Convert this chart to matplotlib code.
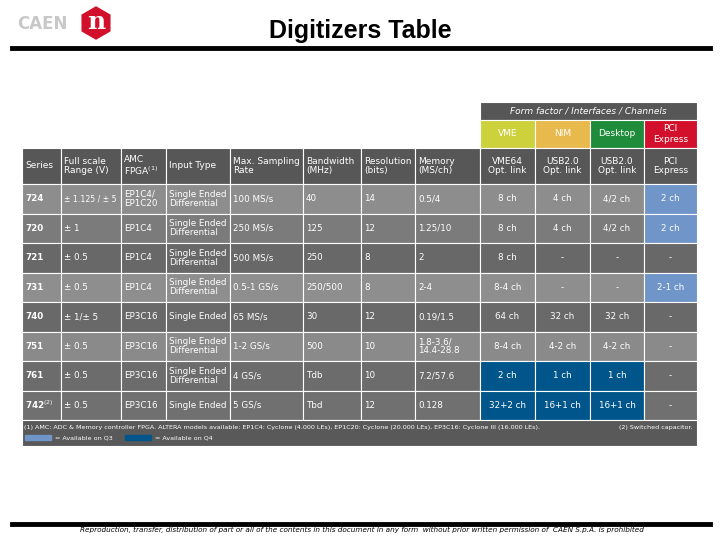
import matplotlib.pyplot as plt
from matplotlib.patches import Rectangle, RegularPolygon

# table content
headers = ["Series", "Full scale\nRange (V)", "AMC\nFPGA$^{(1)}$", "Input Type", "Max. Sampling\nRate",
           "Bandwidth\n(MHz)", "Resolution\n(bits)", "Memory\n(MS/ch)",
           "VME64\nOpt. link", "USB2.0\nOpt. link", "USB2.0\nOpt. link", "PCI\nExpress"]
form_factors = ["VME", "NIM", "Desktop", "PCI\nExpress"]
form_colors = ["#cdd13c", "#e8b94c", "#1e8c3a", "#d2102b"]
rows = [
    ["724", "± 1.125 / ± 5", "EP1C4/\nEP1C20", "Single Ended\nDifferential", "100 MS/s", "40", "14", "0.5/4", "8 ch", "4 ch", "4/2 ch", "2 ch"],
    ["720", "± 1", "EP1C4", "Single Ended\nDifferential", "250 MS/s", "125", "12", "1.25/10", "8 ch", "4 ch", "4/2 ch", "2 ch"],
    ["721", "± 0.5", "EP1C4", "Single Ended\nDifferential", "500 MS/s", "250", "8", "2", "8 ch", "-", "-", "-"],
    ["731", "± 0.5", "EP1C4", "Single Ended\nDifferential", "0.5-1 GS/s", "250/500", "8", "2-4", "8-4 ch", "-", "-", "2-1 ch"],
    ["740", "± 1/± 5", "EP3C16", "Single Ended", "65 MS/s", "30", "12", "0.19/1.5", "64 ch", "32 ch", "32 ch", "-"],
    ["751", "± 0.5", "EP3C16", "Single Ended\nDifferential", "1-2 GS/s", "500", "10", "1.8-3.6/\n14.4-28.8", "8-4 ch", "4-2 ch", "4-2 ch", "-"],
    ["761", "± 0.5", "EP3C16", "Single Ended\nDifferential", "4 GS/s", "Tdb", "10", "7.2/57.6", "2 ch", "1 ch", "1 ch", "-"],
    ["742$^{(2)}$", "± 0.5", "EP3C16", "Single Ended", "5 GS/s", "Tbd", "12", "0.128", "32+2 ch", "16+1 ch", "16+1 ch", "-"],
]
row_colors = ["#8d8d8d", "#7b7b7b", "#686868", "#8e8e8e", "#696969", "#8a8a8a", "#6c6c6c", "#707070"]
# availability marks: Q3 light blue, Q4 dark blue (row, col)
q3_cells = [(0, 11), (1, 11), (3, 11)]
q4_cells = [(6, 8), (6, 9), (6, 10), (7, 8), (7, 9), (7, 10)]

col_edges = [22, 61, 121, 166, 230, 303, 361, 415, 480, 535, 590, 644, 697]
row_top = 184
row_h = 29.5

fig = plt.figure(figsize=(7.2, 5.4), dpi=100)
ax = fig.add_axes([0, 0, 1, 1])
ax.set_xlim(0, 720)
ax.set_ylim(540, 0)
ax.axis("off")

# slide header
ax.text(42, 24, "CAEN", fontsize=12, fontweight="bold", color="#c8c8c8", ha="center", va="center")
ax.add_patch(RegularPolygon((96, 23), 6, radius=16, color="#d2102b"))
ax.text(96, 22, "n", fontsize=18, fontweight="bold", color="white", ha="center", va="center", family="DejaVu Serif")
ax.text(360, 31, "Digitizers Table", fontsize=18, fontweight="bold", ha="center", va="center", family="Liberation Sans")
ax.plot([12, 710], [48, 48], color="black", lw=3.5)
ax.plot([12, 710], [524, 524], color="black", lw=3.5)
ax.text(362, 530, "Reproduction, transfer, distribution of part or all of the contents in this document in any form  without prior written permission of  CAEN S.p.A. is prohibited",
        fontsize=5.2, style="italic", ha="center", va="center")

def cell(x0, x1, y0, y1, fc):
    ax.add_patch(Rectangle((x0, y0), x1 - x0, y1 - y0, facecolor=fc, edgecolor="white", lw=0.8))

# form factor band
cell(col_edges[8], col_edges[12], 102, 120, "#565656")
ax.text((col_edges[8] + col_edges[12]) / 2, 111, "Form factor / Interfaces / Channels", color="white",
        fontsize=6.5, style="italic", ha="center", va="center")
for i, (name, c) in enumerate(zip(form_factors, form_colors)):
    x0, x1 = col_edges[8 + i], col_edges[9 + i]
    cell(x0, x1, 120, 148, c)
    ax.text((x0 + x1) / 2, 134, name, color="white", fontsize=6.5, ha="center", va="center")

# column headers
for j, h in enumerate(headers):
    x0, x1 = col_edges[j], col_edges[j + 1]
    cell(x0, x1, 148, row_top, "#575757")
    right = j >= 8
    ax.text((x0 + x1) / 2 if right else x0 + 3, 166, h, color="white", fontsize=6.5,
            ha="center" if right else "left", va="center", linespacing=1.1)

# data rows
for i, r in enumerate(rows):
    y0 = row_top + i * row_h
    for j, v in enumerate(r):
        x0, x1 = col_edges[j], col_edges[j + 1]
        fc = row_colors[i]
        if (i, j) in q3_cells:
            fc = "#7095c8"
        elif (i, j) in q4_cells:
            fc = "#00568a"
        cell(x0, x1, y0, y0 + row_h, fc)
        right = j >= 8
        fs = 5.6 if (j == 1 and len(v) > 8) else 6.3
        ax.text((x0 + x1) / 2 if right else x0 + 3, y0 + row_h / 2, v, color="white", fontsize=fs,
                ha="center" if right else "left", va="center", linespacing=1.05,
                fontweight="bold" if j == 0 else "normal")

# footnote
fy = row_top + len(rows) * row_h
cell(col_edges[0], col_edges[-1], fy, fy + 26, "#595959")
ax.text(col_edges[0] + 2, fy + 7, "(1) AMC: ADC & Memory controller FPGA. ALTERA models available: EP1C4: Cyclone (4.000 LEs), EP1C20: Cyclone (20.000 LEs), EP3C16: Cyclone III (16.000 LEs).",
        color="white", fontsize=4.6, va="center")
ax.text(col_edges[-1] - 4, fy + 7, "(2) Switched capacitor.", color="white", fontsize=4.6, va="center", ha="right")
ax.add_patch(Rectangle((25, fy + 15), 26, 5, color="#7095c8"))
ax.text(55, fy + 18, "= Available on Q3", color="white", fontsize=4.6, va="center")
ax.add_patch(Rectangle((125, fy + 15), 26, 5, color="#00568a"))
ax.text(155, fy + 18, "= Available on Q4", color="white", fontsize=4.6, va="center")

fig.savefig("out.png", dpi=100)
